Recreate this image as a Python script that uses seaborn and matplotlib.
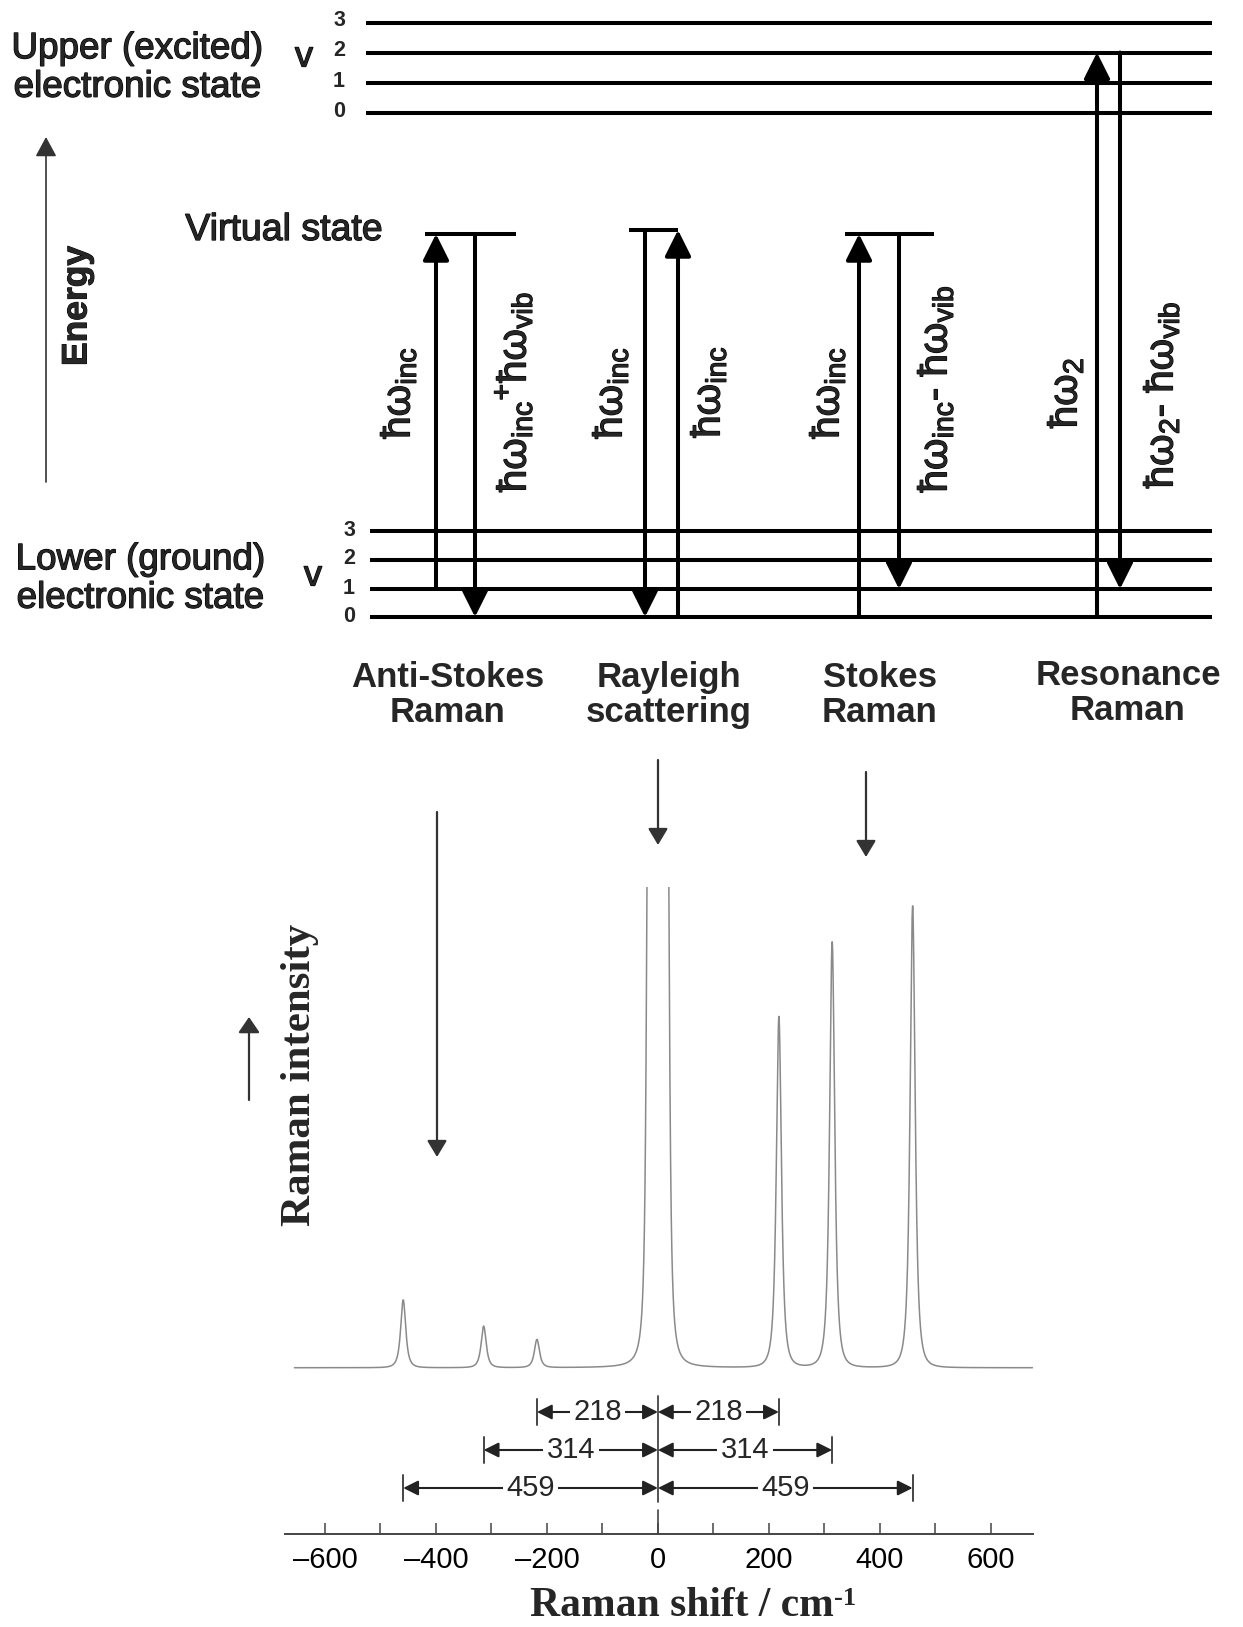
import numpy as np
import pandas as pd
import matplotlib
matplotlib.use("Agg")
import matplotlib.pyplot as plt
import matplotlib.transforms as mtransforms
import matplotlib.patheffects as pe
import seaborn as sns

# ---- spectrum data -------------------------------------------------------
peak_shift = [-459, -314, -218, 0, 218, 314, 459]          # cm-1
peak_height = [14.7, 9.0, 6.1, 130.0, 76.0, 92.2, 100.0]   # relative intensity (Rayleigh off scale)
peak_plateau = [0, 0, 0, 18, 0, 0, 0]                       # flat top half-width, cm-1
peak_gamma = [7, 7, 7, 3.5, 7, 7, 7]
peak_power = [1.5, 1.5, 1.5, 1.0, 1.5, 1.5, 1.5]

shift_marks = [218, 314, 459]
major_ticks = [-600, -400, -200, 0, 200, 400, 600]
minor_ticks = list(range(-600, 601, 100))

# ---- level diagram -------------------------------------------------------
levels_v = ["0", "1", "2", "3"]
process_names = ["Anti-Stokes\nRaman", "Rayleigh\nscattering", "Stokes\nRaman", "Resonance\nRaman"]
up_labels = [r"$\mathregular{ħω_{inc}}$", r"$\mathregular{ħω_{inc}}$",
             r"$\mathregular{ħω_{inc}}$", r"$\mathregular{ħω_{2}}$"]
down_labels = [r"$\mathregular{ħω_{inc}{}^{+}ħω_{vib}}$", r"$\mathregular{ħω_{inc}}$",
               r"$\mathregular{ħω_{inc}\text{-}\ ħω_{vib}}$",
               r"$\mathregular{ħω_{2}\text{-}\ ħω_{vib}}$"]
# start / end level of each transition ("g" = ground, "e" = excited, "virt" = virtual)
up_from = [("g", 1), ("g", 0), ("g", 0), ("g", 0)]
up_to = [("virt", 0), ("virt", 1), ("virt", 2), ("e", 2)]
down_from = [("virt", 0), ("virt", 1), ("virt", 2), ("e", 2)]
down_to = [("g", 0), ("g", 0), ("g", 1), ("g", 1)]

sns.set_theme(style="white")
plt.rcParams["font.family"] = ["Liberation Sans", "DejaVu Sans"]
plt.rcParams["mathtext.fontset"] = "custom"
plt.rcParams["mathtext.rm"] = "Liberation Sans"
plt.rcParams["mathtext.it"] = "Liberation Sans:italic"
plt.rcParams["mathtext.bf"] = "Liberation Sans:bold"

W, H = 1243, 1627
fig = plt.figure(figsize=(W / 100, H / 100), dpi=100)
fig.patch.set_facecolor("white")

# slightly heavier strokes for the diagram lettering
heavy = [pe.withStroke(linewidth=0.9, foreground="black")]

# pixel-space canvas for the energy diagram
ax0 = fig.add_axes([0, 0, 1, 1])
ax0.set_xlim(0, W)
ax0.set_ylim(H, 0)
ax0.axis("off")
ax0.patch.set_alpha(0)

# layout of the diagram (pixels)
excited_y = [113, 83, 52.5, 22.5]
ground_y = [617, 589, 560, 531]
virtual = [(425, 516, 234), (629, 678, 230), (845, 934, 234)]
up_x = [436, 678, 859, 1097]
down_x = [475, 645, 899, 1120]
up_label_x = [398, 610, 827, 1065]
down_label_x = [513, 708, 935, 1161]
down_label_y = [392, 392, 389, 395]
name_x = [448, 669, 880, 1128]

def level_y(ref):
    kind, i = ref
    if kind == "g":
        return ground_y[i]
    if kind == "e":
        return excited_y[i]
    return virtual[i][2]

LW = 2.9
for y in excited_y:
    ax0.plot([366, 1212], [y, y], color="black", lw=LW, solid_capstyle="butt")
for y in ground_y:
    ax0.plot([370, 1212], [y, y], color="black", lw=LW, solid_capstyle="butt")
for x0, x1, y in virtual:
    ax0.plot([x0, x1], [y, y], color="black", lw=LW, solid_capstyle="butt")

for lab, y in zip(levels_v, excited_y):
    ax0.text(339, y - 2, lab, ha="center", va="center", fontsize=15.5, weight="bold")
for lab, y in zip(levels_v, ground_y):
    ax0.text(349, y - 1, lab, ha="center", va="center", fontsize=15.5, weight="bold")
ax0.text(304, 57, "v", ha="center", va="center", fontsize=26, path_effects=heavy)
ax0.text(313, 576, "v", ha="center", va="center", fontsize=26, path_effects=heavy)

ax0.text(137, 68, "Upper (excited)\nelectronic state", ha="center", va="center",
         fontsize=26.5, linespacing=1.13, path_effects=heavy)
ax0.text(140, 579, "Lower (ground)\nelectronic state", ha="center", va="center",
         fontsize=26.5, linespacing=1.13, path_effects=heavy)
ax0.text(284, 240, "Virtual state", ha="center", va="baseline", fontsize=27, path_effects=heavy)
ax0.text(77, 306, "Energy", rotation=90, ha="center", va="center", fontsize=25.5, weight="bold",
         path_effects=[pe.withStroke(linewidth=0.7, foreground="black")])


def arrow(x0, y0, x1, y1, lw, hl, hw, color="black", ms=10, trans=None, style="-|>"):
    kw = {}
    if trans is not None:
        kw = dict(xycoords=trans, textcoords=trans)
    ax0.annotate("", xy=(x1, y1), xytext=(x0, y0),
                 arrowprops=dict(arrowstyle=f"{style},head_length={hl},head_width={hw}",
                                 lw=lw, color=color, shrinkA=0, shrinkB=0,
                                 mutation_scale=ms), **kw)

for i in range(4):
    arrow(up_x[i], level_y(up_from[i]), up_x[i], level_y(up_to[i]), LW, 0.8, 0.4, ms=20)
    arrow(down_x[i], level_y(down_from[i]), down_x[i], level_y(down_to[i]), LW, 0.8, 0.4, ms=20)
    ax0.text(up_label_x[i], 393, up_labels[i], rotation=90, ha="center", va="center",
             fontsize=29, path_effects=heavy)
    ax0.text(down_label_x[i], down_label_y[i], down_labels[i], rotation=90,
             ha="center", va="center", fontsize=29, path_effects=heavy)
    ax0.text(name_x[i], 695 if i < 3 else 693, process_names[i], ha="center", va="center",
             fontsize=25, weight="bold", linespacing=1.1)

# energy axis arrow
arrow(46, 482, 46, 137, 1.2, 1.2, 0.65, color="#333")

# ---- spectrum ------------------------------------------------------------
axs = fig.add_axes([285 / W, (H - 1534) / H, 747.5 / W, (1534 - 887) / H])
axs.patch.set_alpha(0)
shift = np.linspace(-655, 675, 8001)
intensity = np.zeros_like(shift)
for c, h, w, g, p in zip(peak_shift, peak_height, peak_plateau, peak_gamma, peak_power):
    excess = np.clip(np.abs(shift - c) - w, 0, None)
    intensity += h / (1 + (excess / g) ** 2) ** p
spec = pd.DataFrame({"shift": shift, "intensity": intensity})
sns.lineplot(data=spec, x="shift", y="intensity", ax=axs, color="#8a8a8a",
             linewidth=1.1, estimator=None, sort=False)
axs.set_xlim(-672, 675)
axs.set_ylim(-36.0, 104.1)
axs.set_xlabel("")
axs.set_ylabel("")
axs.set_yticks([])
axs.set_xticks(major_ticks)
axs.set_xticks(minor_ticks, minor=True)
axs.set_xticklabels([f"{t:d}".replace("-", "\u2013") for t in major_ticks])
for side in ["top", "right", "left"]:
    axs.spines[side].set_visible(False)
axs.spines["bottom"].set_color("#444")
axs.spines["bottom"].set_linewidth(1.4)
axs.tick_params(axis="x", which="both", bottom=True, direction="in", length=7.9,
                width=1.1, color="#444", pad=9, labelsize=21, labelcolor="black")

trans = mtransforms.blended_transform_factory(axs.transData, ax0.transData)

# longer zero tick and centre line
ax0.plot([0, 0], [1510, 1534], transform=trans, color="#444", lw=1.2)
ax0.plot([0, 0], [1396, 1502], transform=trans, color="#444", lw=1.3)

row_y = [1412, 1450, 1488]
for v, yy in zip(shift_marks, row_y):
    for s in (-1, 1):
        arrow(0, yy, s * v, yy, 1.5, 0.9, 0.45, color="#222", trans=trans, style="<|-|>")
        ax0.plot([s * v, s * v], [yy - 13, yy + 13], transform=trans, color="#444", lw=1.4)
        ax0.text(s * v / 2, yy, str(v), transform=trans, ha="center", va="center",
                 fontsize=21, bbox=dict(facecolor="white", edgecolor="none", pad=2.5))

# pointers from the process labels to the spectrum
arrow(658, 760, 658, 845, 1.6, 1.0, 0.6, color="#333")
arrow(866, 772, 866, 857, 1.6, 1.0, 0.6, color="#333")
arrow(437, 812, 437, 1157, 1.6, 1.0, 0.6, color="#333")
arrow(249, 1100, 249, 1017, 1.6, 0.95, 0.65, color="#333")

ax0.text(300, 1075, "Raman intensity", rotation=90, ha="center", va="center",
         fontsize=31, weight="bold", family=["Liberation Serif", "DejaVu Serif"])
xl = ax0.text(682, 1606, "Raman shift / cm", ha="center", va="center",
              fontsize=30, weight="bold", family=["Liberation Serif", "DejaVu Serif"])
ax0.annotate("-1", xy=(1.0, 1.0), xycoords=xl, ha="left", va="top", fontsize=19,
             weight="bold", family=["Liberation Serif", "DejaVu Serif"])

fig.savefig("out.png", dpi=100, facecolor="white")
